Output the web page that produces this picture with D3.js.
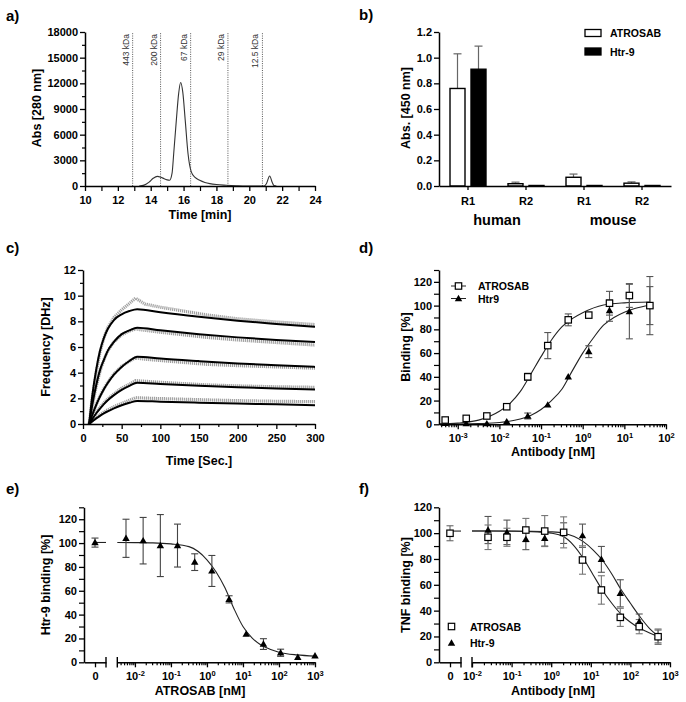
<!DOCTYPE html>
<html><head><meta charset="utf-8">
<script src="https://cdn.jsdelivr.net/npm/d3@7/dist/d3.min.js"></script>
<style>
html,body{margin:0;padding:0;background:#fff;}
svg{display:block;}
</style></head>
<body>
<svg id="fig" width="686" height="702"></svg>
<script>
// ================= DATA =================
// a) size-exclusion chromatogram
const secTime = [13.3, 13.6, 13.9, 14.15, 14.4, 14.7, 15.0, 15.15, 15.3, 15.4, 15.56, 15.7, 15.82, 15.95, 16.1, 16.27, 16.47, 16.7, 16.98, 17.3, 17.6, 18.0, 18.6, 19.2, 19.6, 20.9, 21.05, 21.24, 21.4, 21.5, 21.65];
const secAbs  = [0, 100, 450, 900, 1130, 950, 720, 680, 1500, 3800, 7700, 10800, 12100, 11000, 7700, 3800, 1650, 1000, 670, 420, 280, 170, 90, 30, 0, 0, 300, 1170, 400, 50, 0];
const mwTimes  = [12.9, 14.6, 16.43, 18.7, 20.8];
const mwLabels = ["443 kDa", "200 kDa", "67 kDa", "29 kDa", "12.5 kDa"];
const aXTicks = [10, 12, 14, 16, 18, 20, 22, 24];
const aXMinor = [11, 13, 15, 17, 19, 21, 23];
const aYTicks = [0, 3000, 6000, 9000, 12000, 15000, 18000];
const aYMinor = [1500, 4500, 7500, 10500, 13500, 16500];

// b) ELISA
const bCategories = ["human R1", "human R2", "mouse R1", "mouse R2"];
const bTickLabels = ["R1", "R2", "R1", "R2"];
const bSpecies = ["human", "mouse"];
const bSeries = ["ATROSAB", "Htr-9"];
const bAtrosab    = [0.76, 0.018, 0.068, 0.022];
const bAtrosabErr = [0.27, 0.012, 0.025, 0.010];
const bHtr9       = [0.91, 0.004, 0.004, 0.004];
const bHtr9Err    = [0.18, 0, 0, 0];
const bYTicks = [0, 0.2, 0.4, 0.6, 0.8, 1.0, 1.2];

// c) QCM sensorgrams (fits = solid, measured = dotted)
const cFitTime = [8, 12, 17, 22, 27, 32, 40, 50, 60, 70, 100, 150, 200, 250, 300];
const cFit1 = [0, 2.2, 4.2, 5.7, 6.7, 7.4, 8.1, 8.55, 8.8, 8.95, 8.7, 8.35, 8.05, 7.8, 7.57];
const cFit2 = [0, 1.5, 3.0, 4.2, 5.0, 5.7, 6.4, 7.0, 7.3, 7.5, 7.3, 7.0, 6.75, 6.55, 6.38];
const cFit3 = [0, 0.7, 1.47, 2.13, 2.7, 3.19, 3.84, 4.45, 4.91, 5.25, 5.1, 4.9, 4.72, 4.58, 4.45];
const cFit4 = [0, 0.39, 0.82, 1.2, 1.55, 1.85, 2.25, 2.66, 2.97, 3.22, 3.12, 2.98, 2.86, 2.77, 2.68];
const cFit5 = [0, 0.2, 0.44, 0.64, 0.83, 0.99, 1.22, 1.46, 1.65, 1.8, 1.74, 1.66, 1.59, 1.53, 1.47];
const cObsTime = [8, 12, 17, 22, 27, 32, 40, 50, 60, 68, 80, 100, 130, 160, 200, 250, 300];
const cObs1 = [0, 2.0, 4.0, 5.6, 6.7, 7.5, 8.3, 8.9, 9.4, 9.8, 9.35, 9.1, 8.8, 8.5, 8.2, 7.95, 7.75];
const cObs2 = [0, 1.4, 2.9, 4.1, 5.0, 5.7, 6.4, 6.95, 7.25, 7.4, 7.3, 7.15, 6.95, 6.75, 6.55, 6.35, 6.15];
const cObs3 = [0, 0.7, 1.5, 2.2, 2.75, 3.25, 3.9, 4.5, 4.9, 5.15, 5.05, 4.95, 4.8, 4.65, 4.55, 4.45, 4.35];
const cObs4 = [0, 0.45, 0.9, 1.3, 1.65, 1.95, 2.35, 2.8, 3.1, 3.38, 3.33, 3.25, 3.15, 3.05, 2.97, 2.9, 2.86];
const cObs5 = [0, 0.25, 0.5, 0.72, 0.92, 1.1, 1.35, 1.6, 1.85, 2.05, 2.02, 1.98, 1.93, 1.88, 1.82, 1.77, 1.74];
const cXTicks = [0, 50, 100, 150, 200, 250, 300];
const cXMinor = [25, 75, 125, 175, 225, 275];
const cYTicks = [0, 2, 4, 6, 8, 10, 12];
const cYMinor = [1, 3, 5, 7, 9, 11];

// d) binding titration
const dConc = [0.0005, 0.0016, 0.005, 0.015, 0.048, 0.145, 0.45, 1.4, 4.4, 13.2, 41];
const dAtrosab    = [3.6, 5, 7, 14.8, 40, 66.3, 88, 92, 102, 108.5, 100];
const dAtrosabErr = [0, 0, 0, 0, 3, 11, 5, 0, 10, 10, 24.5];
const dHtr9       = [0.8, 0.5, 0.5, 2.2, 7, 16.3, 40, 61.2, 95.8, 95, 100];
const dHtr9Err    = [0, 0, 0, 0, 2.5, 0, 0, 5, 9, 23, 16];
const dAtrosabFitX = [0.000355, 0.001, 0.00316, 0.01, 0.0178, 0.0316, 0.0562, 0.1, 0.178, 0.316, 0.562, 1, 3.16, 10, 41.2];
const dAtrosabFitY = [0.35, 1.0, 3.5, 11, 17.5, 27.5, 42, 57, 71, 82, 89, 94, 100.5, 102.3, 103];
const dHtr9FitX = [0.000355, 0.001, 0.00316, 0.01, 0.0316, 0.0562, 0.1, 0.178, 0.316, 0.562, 1, 1.78, 3.16, 5.62, 10, 17.8, 41.2];
const dHtr9FitY = [0.1, 0.2, 0.6, 1.5, 4.5, 7.5, 12.5, 20, 29.5, 45, 60, 72.5, 83.5, 90, 94.5, 97.5, 100.5];
const dXTicks = [0.001, 0.01, 0.1, 1, 10, 100];
const dYTicks = [0, 20, 40, 60, 80, 100, 120];
const dYMinor = [10, 30, 50, 70, 90, 110, 130];

// e) competition Htr-9 vs ATROSAB
const eZeroVal = 100.4, eZeroErr = 3.8;
const eConc = [0.00565, 0.0169, 0.0508, 0.152, 0.457, 1.37, 4.12, 12.3, 37, 111, 333, 1000];
const eVal  = [104, 102, 97.9, 97.9, 84, 76.6, 52.8, 23.7, 15.3, 8, 4.2, 5.5];
const eErr  = [16, 19.5, 26, 18, 7, 13, 3, 0, 4.5, 3, 0, 0];
const eFitX = [0.00324, 0.01, 0.0316, 0.1, 0.316, 1, 1.78, 3.16, 5.62, 10, 17.8, 31.6, 56.2, 100, 316, 1000];
const eFitY = [100.5, 100.4, 100.2, 99.3, 97, 86, 76, 62.5, 45, 30, 20.5, 14.5, 11, 8.5, 6.2, 5.2];
const eXTicks = [0.01, 0.1, 1, 10, 100, 1000];
const eYTicks = [0, 20, 40, 60, 80, 100, 120];
const eYMinor = [10, 30, 50, 70, 90, 110, 130];

// f) TNF binding competition
const fZeroAtrosab = 99.9, fZeroAtrosabErr = 5.8;
const fConc = [0.0254, 0.0762, 0.229, 0.686, 2.06, 6.17, 18.5, 55.6, 167, 500];
const fAtrosab    = [96.8, 96.8, 102.4, 101.6, 100.6, 79.2, 56, 34.8, 27.6, 19.8];
const fAtrosabErr = [9.5, 7, 9, 12, 12, 11, 11, 7, 5.5, 6];
const fHtr9       = [102.4, 100.6, 95.2, 96, 100, 98, 79.7, 53.4, 31.4, 20];
const fHtr9Err    = [10.5, 9.5, 8, 6, 8, 9, 10, 10.5, 6, 5];
const fAtrosabFitX = [0.01, 0.0316, 0.1, 0.316, 1, 2.09, 3.63, 6.46, 11.5, 19.5, 33.9, 57.5, 100, 174, 316, 525];
const fAtrosabFitY = [101.6, 101.6, 101.5, 101.2, 100, 97.2, 90.8, 80.5, 67.6, 56, 45.7, 37.4, 31, 26.3, 22.5, 19.8];
const fHtr9FitX = [0.01, 0.0316, 0.1, 0.316, 1, 2.09, 6.46, 11.5, 19.5, 33.9, 57.5, 100, 174, 302, 525];
const fHtr9FitY = [101.6, 101.6, 101.6, 101.5, 101, 99.9, 93.4, 86.9, 79.2, 68.4, 56.5, 45.7, 35.3, 26.3, 20];
const fXTicks = [0.01, 0.1, 1, 10, 100, 1000];
const fYTicks = [0, 20, 40, 60, 80, 100, 120];
const fYMinor = [10, 30, 50, 70, 90, 110];

// ================= DRAWING =================
const svg = d3.select("#fig");
const FONT = '"Liberation Sans", Arial, Helvetica, sans-serif';

function txt(x, y, s, o = {}) {
  return svg.append("text").attr("x", x).attr("y", y).text(s)
    .attr("font-family", FONT).attr("font-weight", o.weight || "bold")
    .attr("font-size", o.size || 11).attr("text-anchor", o.anchor || "start")
    .attr("fill", o.fill || "#000");
}
function vtitle(x, y, s, size = 12.5) {
  svg.append("text").attr("transform", `translate(${x},${y}) rotate(-90)`)
    .attr("text-anchor", "middle").attr("font-family", FONT).attr("font-weight", "bold")
    .attr("font-size", size).attr("fill", "#000").text(s);
}
function styleAxis(g, fs = 11) {
  g.attr("font-family", null).attr("font-size", null);
  g.select(".domain").attr("stroke", "#000").attr("stroke-width", 1.5);
  g.selectAll(".tick line").attr("stroke", "#000").attr("stroke-width", 1.3);
  g.selectAll(".tick text").attr("font-family", FONT).attr("font-weight", "bold")
    .attr("font-size", fs).attr("fill", "#000");
}
function minorAxis(gen, tx, ty) {
  const m = svg.append("g").attr("transform", `translate(${tx},${ty})`).call(gen.tickFormat(() => ""));
  m.select(".domain").remove();
  m.selectAll("line").attr("stroke", "#000").attr("stroke-width", 1.2);
}
function axisY(x, scale, major, minor, fmt, len = 5, mlen = 3) {
  if (minor) minorAxis(d3.axisLeft(scale).tickValues(minor).tickSize(mlen), x, 0);
  const g = svg.append("g").attr("transform", `translate(${x},0)`)
    .call(d3.axisLeft(scale).tickValues(major).tickSize(len).tickSizeOuter(0).tickPadding(2).tickFormat(fmt));
  styleAxis(g);
  return g;
}
function axisX(y, scale, major, minor, fmt, len = 5, mlen = 3, pad = 5) {
  if (minor) minorAxis(d3.axisBottom(scale).tickValues(minor).tickSize(mlen), 0, y);
  const g = svg.append("g").attr("transform", `translate(0,${y})`)
    .call(d3.axisBottom(scale).tickValues(major).tickSize(len).tickSizeOuter(0).tickPadding(pad).tickFormat(fmt));
  styleAxis(g);
  return g;
}
function powLabels(g) {
  g.selectAll(".tick text").each(function (d) {
    const t = d3.select(this);
    t.text(null);
    t.append("tspan").text("10");
    t.append("tspan").attr("dy", -4.5).attr("font-size", 7.5).text(String(Math.round(Math.log10(d))).replace("-", "-"));
  });
}
function logMinor(domain) {
  const out = [];
  const lo = Math.floor(Math.log10(domain[0])), hi = Math.ceil(Math.log10(domain[1]));
  for (let k = lo; k < hi; k++) for (let m = 2; m <= 9; m++) {
    const v = m * Math.pow(10, k);
    if (v >= domain[0] && v <= domain[1]) out.push(v);
  }
  return out;
}
function errBars(xs, ys, es, xf, yf, color, cap = 7, upOnly = false, w = 1.1) {
  xs.forEach((xv, i) => {
    const e = es[i]; if (!e) return;
    const x = xf(xv), y0 = yf(upOnly ? ys[i] : ys[i] - e), y1 = yf(ys[i] + e);
    svg.append("line").attr("x1", x).attr("x2", x).attr("y1", y0).attr("y2", y1).attr("stroke", color).attr("stroke-width", w);
    svg.append("line").attr("x1", x - cap / 2).attr("x2", x + cap / 2).attr("y1", y1).attr("y2", y1).attr("stroke", color).attr("stroke-width", w);
    if (!upOnly) svg.append("line").attr("x1", x - cap / 2).attr("x2", x + cap / 2).attr("y1", y0).attr("y2", y0).attr("stroke", color).attr("stroke-width", w);
  });
}
function tri(x, y, s = 24) {
  svg.append("path").attr("d", d3.symbol(d3.symbolTriangle, s)()).attr("transform", `translate(${x},${y + 0.5})`).attr("fill", "#000");
}
function sq(x, y, a = 6.4) {
  svg.append("rect").attr("x", x - a / 2).attr("y", y - a / 2).attr("width", a).attr("height", a)
    .attr("fill", "#fff").attr("stroke", "#000").attr("stroke-width", 1.2);
}
function curve(xs, ys, xf, yf, stroke, w, dash, cv) {
  const line = d3.line().x((d, i) => xf(xs[i])).y((d, i) => yf(ys[i])).curve(cv || d3.curveMonotoneX);
  const p = svg.append("path").attr("d", line(ys)).attr("fill", "none").attr("stroke", stroke).attr("stroke-width", w);
  if (dash) p.attr("stroke-dasharray", dash);
  return p;
}

// ---- panel labels
[["a)", 6, 21], ["b)", 359, 20], ["c)", 6, 253], ["d)", 359, 253], ["e)", 6, 494], ["f)", 359, 494]]
  .forEach(([s, x, y]) => txt(x, y, s, { size: 15 }));

// ---- a)
{
  const x = d3.scaleLinear().domain([10, 24]).range([85, 315]);
  const y = d3.scaleLinear().domain([0, 18000]).range([186, 32]);
  mwTimes.forEach((t, i) => {
    svg.append("line").attr("x1", x(t)).attr("x2", x(t)).attr("y1", y(0)).attr("y2", y(18000))
      .attr("stroke", "#555").attr("stroke-width", 1).attr("stroke-dasharray", "1,1.3");
    svg.append("text").attr("transform", `translate(${x(t) - 4},${y(18000) + 2}) rotate(-90)`)
      .attr("text-anchor", "end").attr("font-family", FONT).attr("font-size", 8.5).attr("fill", "#333").text(mwLabels[i]);
  });
  curve(secTime, secAbs, x, y, "#333", 1.1);
  axisX(186, x, aXTicks, aXMinor, d3.format("d"), 5, 5, 5);
  axisY(85, y, aYTicks, aYMinor, d3.format("d"), 5, 3);
  txt(200, 219, "Time [min]", { size: 12.5, anchor: "middle" });
  vtitle(41, 108, "Abs [280 nm]");
}

// ---- b)
{
  const x = d3.scaleBand().domain(bCategories).range([439, 671]);
  const xi = d3.scaleBand().domain(bSeries).range([0, x.bandwidth()]).paddingInner(0.2857).paddingOuter(0.524);
  const y = d3.scaleLinear().domain([0, 1.2]).range([186, 32]);
  const vals = [bAtrosab, bHtr9], errs = [bAtrosabErr, bHtr9Err], fills = ["#fff", "#000"];
  bSeries.forEach((s, si) => {
    bCategories.forEach((c, ci) => {
      const bx = x(c) + xi(s), v = vals[si][ci], e = errs[si][ci];
      const cx = bx + xi.bandwidth() / 2;
      if (e) {
        svg.append("line").attr("x1", cx).attr("x2", cx).attr("y1", y(v)).attr("y2", y(v + e)).attr("stroke", "#666").attr("stroke-width", 1.2);
        svg.append("line").attr("x1", cx - 4).attr("x2", cx + 4).attr("y1", y(v + e)).attr("y2", y(v + e)).attr("stroke", "#666").attr("stroke-width", 1.2);
      }
      svg.append("rect").attr("x", bx).attr("y", y(v)).attr("width", xi.bandwidth()).attr("height", y(0) - y(v))
        .attr("fill", fills[si]).attr("stroke", "#000").attr("stroke-width", 1.4);
    });
  });
  const g = axisX(186, x, bCategories, null, (d, i) => bTickLabels[i], 4, 3, 7);
  axisY(439, y, bYTicks, null, d3.format(".1f"), 5);
  txt((x(bCategories[0]) + x(bCategories[1]) + x.bandwidth()) / 2, 225, bSpecies[0], { size: 14.5, anchor: "middle" });
  txt((x(bCategories[2]) + x(bCategories[3]) + x.bandwidth()) / 2, 225, bSpecies[1], { size: 14.5, anchor: "middle" });
  vtitle(410, 108, "Abs. [450 nm]");
  // legend
  bSeries.forEach((s, i) => {
    svg.append("rect").attr("x", 585).attr("y", 29.5 + i * 18.5).attr("width", 16).attr("height", 7)
      .attr("fill", fills[i]).attr("stroke", "#000").attr("stroke-width", 1.3);
    txt(610, 37 + i * 18.5, s, { size: 10.5 });
  });
}

// ---- c)
{
  const x = d3.scaleLinear().domain([0, 300]).range([83, 315]);
  const y = d3.scaleLinear().domain([0, 12]).range([424, 270]);
  [cObs1, cObs2, cObs3, cObs4, cObs5].forEach(o => {
    curve(cObsTime, o, x, y, "#a0a0a0", 3.2, "1.2,0.8", d3.curveLinear);
  });
  [cFit1, cFit2, cFit3, cFit4, cFit5].forEach(f => {
    curve(cFitTime, f, x, y, "#000", 2);
  });
  axisX(424, x, cXTicks, cXMinor, d3.format("d"), 5, 3, 5);
  axisY(83, y, cYTicks, cYMinor, d3.format("d"), 5, 3);
  txt(199, 465, "Time [Sec.]", { size: 12.5, anchor: "middle" });
  vtitle(50, 347, "Frequency [DHz]");
}

// ---- d)
{
  const x = d3.scaleLog().domain([0.000355, 100]).range([439, 666]);
  const y = d3.scaleLinear().domain([0, 130]).range([424.3, 270]);
  curve(dAtrosabFitX, dAtrosabFitY, x, y, "#222", 1.1);
  curve(dHtr9FitX, dHtr9FitY, x, y, "#222", 1.1);
  errBars(dConc, dAtrosab, dAtrosabErr, x, y, "#555", 7);
  errBars(dConc, dHtr9, dHtr9Err, x, y, "#555", 7);
  dConc.forEach((c, i) => tri(x(c), y(dHtr9[i])));
  dConc.forEach((c, i) => sq(x(c), y(dAtrosab[i])));
  const g = axisX(424.3, x, dXTicks, logMinor(x.domain()), d => d, 5, 3, 5);
  powLabels(g);
  axisY(439, y, dYTicks, dYMinor, d3.format("d"), 5, 5);
  txt(553, 456, "Antibody [nM]", { size: 12.5, anchor: "middle" });
  vtitle(410, 347, "Binding [%]");
  // legend
  svg.append("line").attr("x1", 451).attr("x2", 466).attr("y1", 286).attr("y2", 286).attr("stroke", "#222");
  sq(458.5, 286);
  txt(478, 290, "ATROSAB", { size: 10.5 });
  svg.append("line").attr("x1", 451).attr("x2", 466).attr("y1", 298.5).attr("y2", 298.5).attr("stroke", "#222");
  tri(458.5, 298.5);
  txt(478, 302.5, "Htr9", { size: 10.5 });
}

// ---- e)
{
  const x0 = d3.scaleLinear().domain([-1, 1]).range([84, 106]);
  const x = d3.scaleLog().domain([0.00324, 1000]).range([117.3, 315]);
  const y = d3.scaleLinear().domain([0, 130]).range([662.3, 507.3]);
  svg.append("line").attr("x1", x0(0)).attr("x2", x0(1)).attr("y1", y(eFitY[0])).attr("y2", y(eFitY[0])).attr("stroke", "#222").attr("stroke-width", 1.1);
  curve(eFitX, eFitY, x, y, "#222", 1.1);
  errBars([0], [eZeroVal], [eZeroErr], x0, y, "#444", 7);
  tri(x0(0), y(eZeroVal));
  errBars(eConc, eVal, eErr, x, y, "#444", 7);
  eConc.forEach((c, i) => tri(x(c), y(eVal[i])));
  const gz = axisX(662.3, x0, [0], null, () => "0", 5, 3, 5);
  const g = axisX(662.3, x, eXTicks, logMinor(x.domain()), d => d, 5, 3, 5);
  powLabels(g);
  [x0.range()[1], x.range()[0]].forEach(bx => svg.append("line").attr("x1", bx).attr("x2", bx).attr("y1", 657).attr("y2", 667.5).attr("stroke", "#000").attr("stroke-width", 1.4));
  axisY(84, y, eYTicks, eYMinor, d3.format("d"), 5, 5);
  txt(200, 695, "ATROSAB [nM]", { size: 12.5, anchor: "middle" });
  vtitle(50, 585, "Htr-9 binding [%]");
}

// ---- f)
{
  const x0 = d3.scaleLinear().domain([-1, 1]).range([439, 461]);
  const x = d3.scaleLog().domain([0.01, 1000]).range([472, 670]);
  const y = d3.scaleLinear().domain([0, 120]).range([662.3, 507.3]);
  svg.append("line").attr("x1", x0(0)).attr("x2", x0(1)).attr("y1", y(fAtrosabFitY[0])).attr("y2", y(fAtrosabFitY[0])).attr("stroke", "#222").attr("stroke-width", 1.1);
  curve(fAtrosabFitX, fAtrosabFitY, x, y, "#222", 1.1);
  curve(fHtr9FitX, fHtr9FitY, x, y, "#222", 1.1);
  errBars([0], [fZeroAtrosab], [fZeroAtrosabErr], x0, y, "#666", 7);
  errBars(fConc, fHtr9, fHtr9Err, x, y, "#555", 7);
  errBars(fConc, fAtrosab, fAtrosabErr, x, y, "#777", 7);
  fConc.forEach((c, i) => tri(x(c), y(fHtr9[i])));
  sq(x0(0), y(fZeroAtrosab));
  fConc.forEach((c, i) => sq(x(c), y(fAtrosab[i])));
  axisX(662.3, x0, [0], null, () => "0", 5, 3, 5);
  const g = axisX(662.3, x, fXTicks, logMinor(x.domain()), d => d, 5, 3, 5);
  powLabels(g);
  [x0.range()[1], x.range()[0]].forEach(bx => svg.append("line").attr("x1", bx).attr("x2", bx).attr("y1", 657).attr("y2", 667.5).attr("stroke", "#000").attr("stroke-width", 1.4));
  axisY(439, y, fYTicks, fYMinor, d3.format("d"), 5, 5);
  txt(553, 695, "Antibody [nM]", { size: 12.5, anchor: "middle" });
  vtitle(410, 585, "TNF binding [%]");
  sq(451.5, 626.5);
  txt(470, 630.5, "ATROSAB", { size: 10.5 });
  tri(451.5, 643);
  txt(470, 647, "Htr-9", { size: 10.5 });
}
</script>
</body></html>
